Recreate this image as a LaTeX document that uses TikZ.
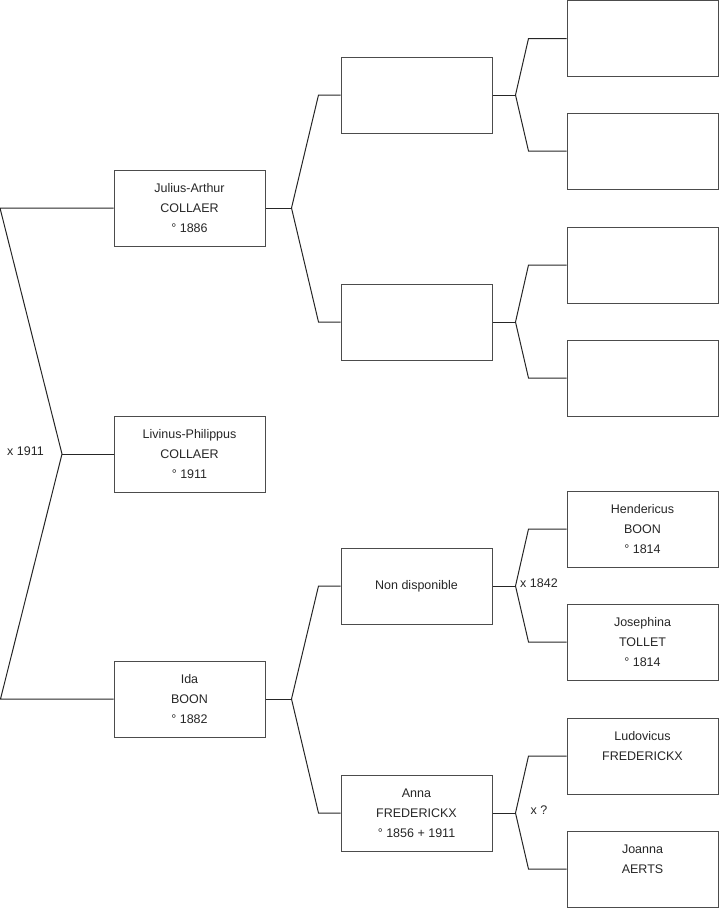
\documentclass[tikz,border=0pt]{standalone}
\usepackage{fontspec}
\setmainfont{Liberation Sans}
\usepackage{tikz}
\usetikzlibrary{positioning}

\newcommand{\treefont}{\fontsize{12.5}{20}\selectfont}

\begin{document}
\begin{tikzpicture}[
    x=1pt, y=-1pt,
    every node/.style={font=\treefont, text=black!85},
    person/.style={
      rectangle, draw=black!70, line width=1pt,
      minimum width=151pt, minimum height=76pt,
      inner sep=0pt, align=center
    },
    link/.style={draw=black!85, line width=1pt},
    marriage/.style={inner sep=1pt}
  ]
    \useasboundingbox (0,0) rectangle (719,908);

    % Generation 1
    \node[person] (julius) at (189.5,208) {Julius-Arthur\\COLLAER\\° 1886};
    \node[person] (livinus) at (189.5,454) {Livinus-Philippus\\COLLAER\\° 1911};
    \node[person] (ida) at (189.5,699) {Ida\\BOON\\° 1882};

    % Generation 2
    \node[person] (jfather) at (416.5,95) {};
    \node[person] (jmother) at (416.5,322) {};
    \node[person] (ifather) at (416.5,586) {Non disponible};
    \node[person] (anna) at (416.5,813) {Anna\\FREDERICKX\\° 1856 + 1911};

    % Generation 3
    \node[person] (g1) at (642.5,38.5) {};
    \node[person] (g2) at (642.5,151) {};
    \node[person] (g3) at (642.5,265) {};
    \node[person] (g4) at (642.5,378) {};
    \node[person] (hendericus) at (642.5,529) {Hendericus\\BOON\\° 1814};
    \node[person] (josephina) at (642.5,642) {Josephina\\TOLLET\\° 1814};
    \node[person] (ludovicus) at (642.5,756) {Ludovicus\\FREDERICKX\\\mbox{}};
    \node[person] (joanna) at (642.5,869) {Joanna\\AERTS\\\mbox{}};

    % Parents of Livinus
    \coordinate (fork0) at (62,454);
    \draw[link] (julius.west) -- ++(-113.5,0) -- (fork0) -- ([xshift=-61.5]fork0 |- ida.west) -- (ida.west);
    \draw[link] (fork0) -- (livinus.west);
    \node[marriage] (m0) at (25.5,451) {x 1911};

    % Parents of Julius-Arthur
    \draw[link] (julius.east) -- ++(26,0) coordinate (fork1);
    \draw[link] (fork1) -- ([xshift=-22]jfather.west) -- (jfather.west);
    \draw[link] (fork1) -- ([xshift=-22]jmother.west) -- (jmother.west);

    % Parents of Ida
    \draw[link] (ida.east) -- ++(26,0) coordinate (fork2);
    \draw[link] (fork2) -- ([xshift=-22]ifather.west) -- (ifather.west);
    \draw[link] (fork2) -- ([xshift=-22]anna.west) -- (anna.west);

    % Generation 3 links
    \draw[link] (jfather.east) -- ++(23,0) coordinate (fork3);
    \draw[link] (fork3) -- ([xshift=-38]g1.west) -- (g1.west);
    \draw[link] (fork3) -- ([xshift=-38]g2.west) -- (g2.west);

    \draw[link] (jmother.east) -- ++(23,0) coordinate (fork4);
    \draw[link] (fork4) -- ([xshift=-38]g3.west) -- (g3.west);
    \draw[link] (fork4) -- ([xshift=-38]g4.west) -- (g4.west);

    \draw[link] (ifather.east) -- ++(23,0) coordinate (fork5);
    \draw[link] (fork5) -- ([xshift=-38]hendericus.west) -- (hendericus.west);
    \draw[link] (fork5) -- ([xshift=-38]josephina.west) -- (josephina.west);
    \node[marriage] (m5) at (539,583) {x 1842};

    \draw[link] (anna.east) -- ++(23,0) coordinate (fork6);
    \draw[link] (fork6) -- ([xshift=-38]ludovicus.west) -- (ludovicus.west);
    \draw[link] (fork6) -- ([xshift=-38]joanna.west) -- (joanna.west);
    \node[marriage] (m6) at (539,810) {x ?};

  \end{tikzpicture}
\end{document}
